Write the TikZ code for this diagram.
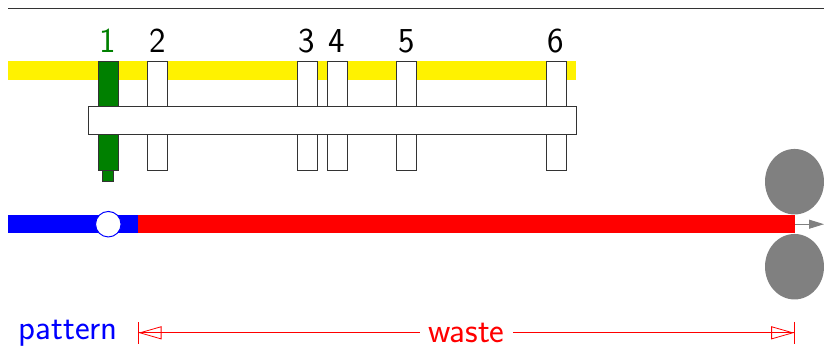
\documentclass[tikz,border=0pt]{standalone}
\usetikzlibrary{arrows.meta,shapes.geometric}
\definecolor{dgreen}{RGB}{0,128,0}
\begin{document}
\begin{tikzpicture}[x=1pt,y=-1pt,
  bar/.style={draw=black!80,line width=0.8pt,fill=white,minimum width=20pt,minimum height=109pt,inner sep=0pt,outer sep=0pt},
  num/.style={font=\sffamily\fontsize{35}{40}\selectfont,anchor=base,inner sep=0pt},
  lbl/.style={font=\sffamily\fontsize{35}{40}\selectfont,inner sep=2pt}]
\useasboundingbox (0,0) rectangle (824,346);
% top rule
\coordinate (tl) at (8,8.5);
\coordinate (tr) at (824,8.5);
\draw[black!80,line width=0.9pt] (tl) -- (tr);
% yellow band
\fill[yellow] (8,61) rectangle (576,80);
% bars
\node[bar,fill=dgreen] (b1) at (108,115.5) {};
\node[draw=black!80,fill=dgreen,line width=0.8pt,minimum width=10.5pt,minimum height=11pt,inner sep=0pt,anchor=north] (tab) at (b1.south) {};
\node[bar] (b2) at (157.7,115.5) {};
\node[bar] (b3) at (307,115.5) {};
\node[bar] (b4) at (337,115.5) {};
\node[bar] (b5) at (406.5,115.5) {};
\node[bar] (b6) at (556,115.5) {};
% plate
\node[draw=black!80,line width=0.8pt,fill=white,minimum width=488pt,minimum height=27.4pt,inner sep=0pt,anchor=north west] (plate) at (87.8,106.3) {};
% numbers
\node[num,text=dgreen] (n1) at (108,52) {1};
\node[num] (n2) at (157.7,52) {2};
\node[num] (n3) at (307,52) {3};
\node[num] (n4) at (337,52) {4};
\node[num] (n5) at (406.5,52) {5};
\node[num] (n6) at (556,52) {6};
% material strip
\fill[blue] (8,215) rectangle (137.7,233.4);
\fill[red] (137.7,215) rectangle (795,233.4);
\node[circle,draw=blue,fill=white,line width=1pt,minimum size=25.5pt,inner sep=0pt] (pin) at (108.3,224.2) {};
% rollers
\node[ellipse,fill=black!50,minimum width=59pt,minimum height=65.5pt,inner sep=0pt] (r1) at (794.5,181.7) {};
\node[ellipse,fill=black!50,minimum width=59pt,minimum height=65.5pt,inner sep=0pt] (r2) at (794.5,266.7) {};
\coordinate (fs) at (795,224.2);
\coordinate (fe) at (824,224.2);
\draw[black!50,line width=0.9pt,-{Triangle[length=15pt,width=9pt]}] (fs) -- (fe);
% labels
\node[lbl,text=blue,anchor=base east] (pat) at (120,339) {pattern};
\coordinate (wl) at (137.7,332.8);
\coordinate (wr) at (795,332.8);
\draw[red,line width=0.8pt,{Bar[width=22pt,sep=0pt]Triangle[open,length=23pt,width=13pt]}-{Triangle[open,length=23pt,width=13pt,sep=0pt]Bar[width=22pt]}] (wl) -- (wr)
  node[midway,fill=white,text=red,lbl,inner xsep=8pt,inner ysep=0pt] (waste) {waste};
\end{tikzpicture}
\end{document}
